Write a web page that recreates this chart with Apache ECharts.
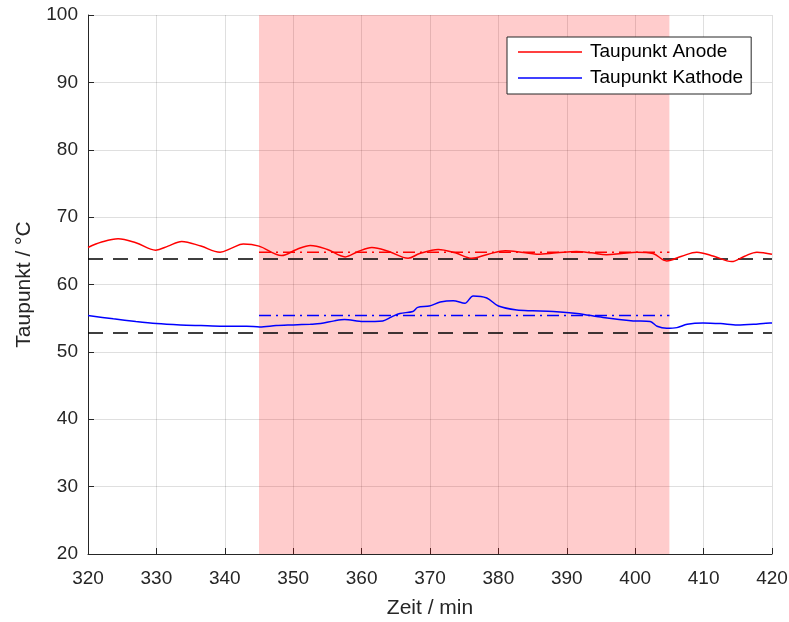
<!DOCTYPE html>
<html>
<head>
<meta charset="utf-8">
<script src="https://cdn.jsdelivr.net/npm/echarts@6/dist/echarts.min.js"></script>
<style>
  html, body { margin: 0; padding: 0; background: #fff; }
  #chart { width: 789px; height: 622px; }
</style>
</head>
<body>
<div id="chart"></div>
<script>
// Dew point (Taupunkt) of anode and cathode gas over time
const zeit = [320, 330, 340, 350, 360, 370, 380, 390, 400, 410, 420];
const taupunktTicks = [20, 30, 40, 50, 60, 70, 80, 90, 100];

// Anode dew point [min, °C]
const anodeTime = [320, 322, 324.4, 327, 329.9, 331.7, 333.7, 336.5, 339.3, 341, 342.7, 345, 348.3, 350.5,
  352.5, 355, 357.6, 359.5, 361.5, 364, 366.8, 368.5, 371.2, 373.7, 376.1, 378.5, 381, 383.3, 385.6, 388.5,
  391.4, 393.6, 395.8, 398, 400.2, 402.6, 404.6, 406.8, 409, 411.5, 414.1, 416, 417.8, 420];
const anodeTemp = [65.5, 66.3, 66.8, 66.2, 65.1, 65.7, 66.4, 65.7, 64.8, 65.4, 66.0, 65.7, 64.3, 65.2,
  65.8, 65.2, 64.1, 64.9, 65.5, 64.9, 63.9, 64.6, 65.2, 64.7, 63.9, 64.5, 65.0, 64.8, 64.5, 64.7,
  64.9, 64.7, 64.4, 64.6, 64.8, 64.6, 63.5, 64.2, 64.8, 64.2, 63.4, 64.2, 64.8, 64.5];

// Cathode dew point [min, °C]
const kathodeTime = [320, 323.7, 327, 330, 333.5, 336.5, 339.7, 343.2, 345.1, 347.5, 350, 352.5, 354, 356,
  357.5, 360.2, 363.1, 364.4, 365.6, 367.5, 368.2, 369.9, 371.5, 373.4, 375.1, 376.3, 378.3, 380, 382.7,
  385, 388, 391.5, 395.3, 399.7, 402.2, 403.2, 404.6, 406.1, 407.6, 409.9, 412.5, 414.9, 417.3, 419.7, 420];
const kathodeTemp = [55.4, 54.9, 54.5, 54.2, 54.0, 53.9, 53.8, 53.8, 53.7, 53.9, 54.0, 54.1, 54.2, 54.6,
  54.8, 54.5, 54.6, 55.2, 55.7, 56.0, 56.6, 56.8, 57.4, 57.6, 57.2, 58.3, 58.0, 56.8, 56.2,
  56.1, 56.0, 55.7, 55.1, 54.6, 54.5, 53.8, 53.5, 53.6, 54.1, 54.3, 54.2, 54.0, 54.1, 54.3, 54.3];

// Reference levels and phase means
const anodeRef = 63.8;
const kathodeRef = 52.8;
const phase = [345, 405];
const anodeMean = 64.8;
const kathodeMean = 55.4;

const FONT = 'Liberation Sans';
const INK = '#262626';

const pairs = (xs, ys) => xs.map((x, i) => [x, ys[i]]);
const hline = (x0, x1, y) => [[x0, y], [x1, y]];

const chart = echarts.init(document.getElementById('chart'), null, { renderer: 'canvas' });

const axisCommon = {
  axisLine: { show: true, lineStyle: { color: INK, width: 1 } },
  axisTick: { show: true, inside: true, length: 6, lineStyle: { color: INK } },
  splitLine: { show: true, lineStyle: { color: 'rgba(38,38,38,0.15)', width: 1 } },
  axisLabel: { color: INK, fontFamily: FONT, fontSize: 19 },
  nameTextStyle: { color: INK, fontFamily: FONT, fontSize: 21 },
  nameLocation: 'middle'
};

chart.setOption({
  animation: false,
  backgroundColor: '#fff',
  grid: { left: 88, right: 17, top: 15, bottom: 68, containLabel: false, outerBoundsMode: 'none' },
  xAxis: Object.assign({}, axisCommon, {
    type: 'value', min: zeit[0], max: zeit[zeit.length - 1], interval: 10,
    name: 'Zeit / min', nameGap: 44,
    axisLabel: Object.assign({}, axisCommon.axisLabel, { margin: 15 })
  }),
  yAxis: Object.assign({}, axisCommon, {
    type: 'value', min: taupunktTicks[0], max: taupunktTicks[taupunktTicks.length - 1], interval: 10,
    name: 'Taupunkt / °C', nameGap: 53,
    axisLabel: Object.assign({}, axisCommon.axisLabel, { margin: 10 })
  }),
  legend: {
    data: ['Taupunkt Anode', 'Taupunkt Kathode'],
    orient: 'vertical',
    left: 507, top: 37,
    padding: [5, 8, 6, 11],
    itemWidth: 64, itemHeight: 1.5, itemGap: 6,
    icon: 'rect',
    backgroundColor: '#fff',
    borderColor: INK, borderWidth: 1,
    textStyle: { color: '#000', fontFamily: FONT, fontSize: 19, lineHeight: 20, padding: [0, 0, 0, 3] }
  },
  series: [
    {
      name: 'phase', type: 'line', data: [], silent: true,
      markArea: {
        silent: true,
        itemStyle: { color: 'rgba(255,0,0,0.2)' },
        data: [[{ xAxis: phase[0] }, { xAxis: phase[1] }]]
      }
    },
    {
      name: 'anodeRef', type: 'line', data: hline(zeit[0], zeit[zeit.length - 1], anodeRef),
      showSymbol: false, silent: true,
      lineStyle: { color: '#000', width: 1.5, type: [15, 10] }
    },
    {
      name: 'kathodeRef', type: 'line', data: hline(zeit[0], zeit[zeit.length - 1], kathodeRef),
      showSymbol: false, silent: true,
      lineStyle: { color: '#000', width: 1.5, type: [15, 10] }
    },
    {
      name: 'anodeMean', type: 'line', data: hline(phase[0], phase[1], anodeMean),
      showSymbol: false, silent: true,
      lineStyle: { color: '#ff0000', width: 1.5, type: [12, 5, 2, 5] }
    },
    {
      name: 'kathodeMean', type: 'line', data: hline(phase[0], phase[1], kathodeMean),
      showSymbol: false, silent: true,
      lineStyle: { color: '#0000ff', width: 1.5, type: [12, 5, 2, 5] }
    },
    {
      name: 'Taupunkt Anode', type: 'line', data: pairs(anodeTime, anodeTemp),
      showSymbol: false, smooth: 0.35,
      itemStyle: { color: '#ff0000' },
      lineStyle: { color: '#ff0000', width: 1.5 }
    },
    {
      name: 'Taupunkt Kathode', type: 'line', data: pairs(kathodeTime, kathodeTemp),
      showSymbol: false, smooth: 0.3,
      itemStyle: { color: '#0000ff' },
      lineStyle: { color: '#0000ff', width: 1.5 }
    }
  ]
});
</script>
</body>
</html>
